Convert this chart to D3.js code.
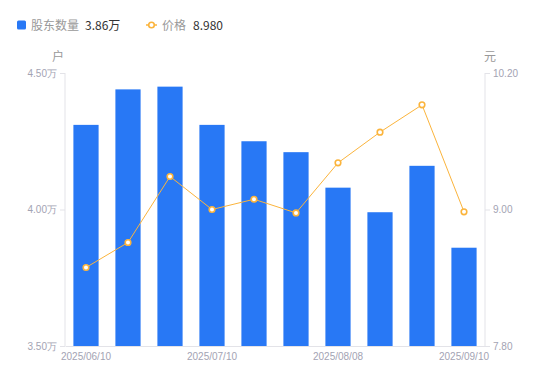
<!DOCTYPE html>
<html>
<head>
<meta charset="utf-8">
<script src="https://cdn.jsdelivr.net/npm/d3@7"></script>
<style>
  body { margin: 0; background: #fff; }
  svg { display: block; font-family: "Noto Sans CJK SC", "Noto Sans", sans-serif; }
</style>
</head>
<body>
<svg id="chart" width="550" height="381"></svg>
<script>
// dates of each record, shown every 3rd
var dates = ['2025/06/10', '2025/06/20', '2025/06/30', '2025/07/10', '2025/07/18',
    '2025/07/31', '2025/08/08', '2025/08/20', '2025/08/29', '2025/09/10'];
// holders in 万户
var holders = [4.31, 4.44, 4.45, 4.31, 4.25, 4.21, 4.08, 3.99, 4.16, 3.86];
// price in 元
var prices = [8.49, 8.71, 9.29, 9.00, 9.09, 8.97, 9.41, 9.68, 9.92, 8.98];

var leftTicks = [3.5, 4.0, 4.5];
var rightTicks = [7.8, 9.0, 10.2];

var margin = { left: 65, right: 65, top: 73, bottom: 35 };
var width = 550, height = 381;

var svg = d3.select('#chart');

var x = d3.scaleBand()
    .domain(dates)
    .range([margin.left, width - margin.right])
    .paddingInner(0.4)
    .paddingOuter(0.2);

var yLeft = d3.scaleLinear().domain([3.5, 4.5]).range([height - margin.bottom, margin.top]);
var yRight = d3.scaleLinear().domain([7.8, 10.2]).range([height - margin.bottom, margin.top]);

var axisColor = '#e3e3e8';
var labelColor = '#a3a3b3';

// left axis
var leftAxis = svg.append('g')
    .attr('transform', 'translate(' + margin.left + ',0)')
    .call(d3.axisLeft(yLeft).tickValues(leftTicks).tickSize(5).tickPadding(3)
        .tickFormat(function (d) { return d.toFixed(2) + '万'; }));

// right axis
var rightAxis = svg.append('g')
    .attr('transform', 'translate(' + (width - margin.right) + ',0)')
    .call(d3.axisRight(yRight).tickValues(rightTicks).tickSize(5).tickPadding(3)
        .tickFormat(function (d) { return d.toFixed(2); }));

// bottom axis
var bottomAxis = svg.append('g')
    .attr('transform', 'translate(0,' + (height - margin.bottom) + ')')
    .call(d3.axisBottom(x).tickSize(0).tickPadding(7)
        .tickValues(dates.filter(function (d, i) { return i % 3 == 0; })));

[leftAxis, rightAxis, bottomAxis].forEach(function (a) {
    a.selectAll('path.domain').attr('stroke', axisColor);
    a.selectAll('.tick line').attr('stroke', axisColor);
    a.selectAll('text').attr('fill', labelColor).style('font-size', '10px');
});
rightAxis.select('path.domain').attr('d', 'M0,' + margin.top + 'V' + (height - margin.bottom));
leftAxis.select('path.domain').attr('d', 'M0,' + margin.top + 'V' + (height - margin.bottom));

// axis names
svg.append('text').attr('x', 58).attr('y', 61).attr('text-anchor', 'middle')
    .attr('fill', '#999').style('font-size', '12px').text('户');
svg.append('text').attr('x', 490).attr('y', 61).attr('text-anchor', 'middle')
    .attr('fill', '#999').style('font-size', '12px').text('元');

// bars
svg.append('g').selectAll('rect')
    .data(holders)
    .enter().append('rect')
    .attr('x', function (d, i) { return x(dates[i]); })
    .attr('y', function (d) { return yLeft(d); })
    .attr('width', x.bandwidth())
    .attr('height', function (d) { return yLeft(3.5) - yLeft(d); })
    .attr('fill', '#2878f5');

// price line
var line = d3.line()
    .x(function (d, i) { return x(dates[i]) + x.bandwidth() / 2; })
    .y(function (d) { return yRight(d); });

svg.append('path')
    .datum(prices)
    .attr('d', line)
    .attr('fill', 'none')
    .attr('stroke', '#fbb43c')
    .attr('stroke-width', 1);

svg.append('g').selectAll('circle')
    .data(prices)
    .enter().append('circle')
    .attr('cx', function (d, i) { return x(dates[i]) + x.bandwidth() / 2; })
    .attr('cy', function (d) { return yRight(d); })
    .attr('r', 2.8)
    .attr('fill', '#fff')
    .attr('stroke', '#fbb43c')
    .attr('stroke-width', 1.6);

// legend
var legend = svg.append('g').style('font-size', '12px');
legend.append('rect').attr('x', 17).attr('y', 20.5).attr('width', 9).attr('height', 9)
    .attr('rx', 1.5).attr('fill', '#2878f5');
legend.append('text').attr('x', 31).attr('y', 29.5).attr('fill', '#999').text('股东数量');
legend.append('text').attr('x', 85).attr('y', 29.5).attr('fill', '#333')
    .text(holders[holders.length - 1].toFixed(2) + '万');
legend.append('line').attr('x1', 146).attr('x2', 157).attr('y1', 25).attr('y2', 25)
    .attr('stroke', '#fbb43c').attr('stroke-width', 1.5);
legend.append('circle').attr('cx', 151.5).attr('cy', 25).attr('r', 2.8)
    .attr('fill', '#fff').attr('stroke', '#fbb43c').attr('stroke-width', 1.6);
legend.append('text').attr('x', 162).attr('y', 29.5).attr('fill', '#999').text('价格');
legend.append('text').attr('x', 193).attr('y', 29.5).attr('fill', '#333')
    .text(prices[prices.length - 1].toFixed(3));
</script>
</body>
</html>
